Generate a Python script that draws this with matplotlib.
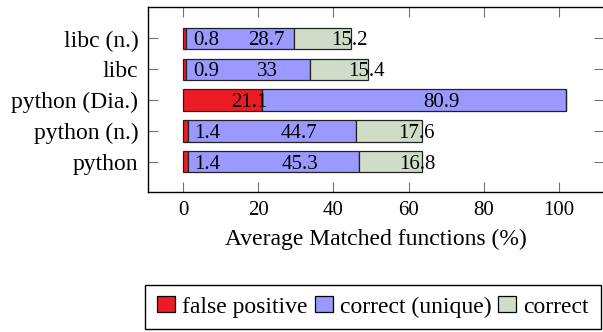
import matplotlib.pyplot as plt
from matplotlib.patches import Patch

plt.rcParams['font.family'] = ['Liberation Serif', 'DejaVu Serif']
plt.rcParams['font.size'] = 15
word_size = 17

# bottom to top
categories = ['python', 'python (n.)', 'python (Dia.)', 'libc', 'libc (n.)']
false_positive = [1.4, 1.4, 21.1, 0.9, 0.8]
correct_unique = [45.3, 44.7, 80.9, 33, 28.7]
correct = [16.8, 17.6, 0, 15.4, 15.2]

series = [('false positive', false_positive, '#ED1C24'),
          ('correct (unique)', correct_unique, '#9999FF'),
          ('correct', correct, '#CFDDC8')]

fig = plt.figure(figsize=(6.03, 3.32), dpi=100)
ax = fig.add_axes([148/603, 1-191.7/332, (604-148)/603, (191.7-6.7)/332])

y = list(range(len(categories)))
left = [0.0] * len(categories)
handles = []
for name, vals, col in series:
    ax.barh(y, vals, left=left, height=0.69, color=col, edgecolor='#222222', linewidth=0.9)
    for yi, l, v in zip(y, left, vals):
        if v > 0:
            ax.annotate(f'{v:g}', (l + v / 2, yi), xytext=(6.2, 0), textcoords='offset points',
                        ha='left', va='center_baseline')
    left = [l + v for l, v in zip(left, vals)]
    handles.append(Patch(facecolor=col, edgecolor='black', linewidth=0.9, label=name))

ax.set_xlim(-9.3, 112)
ax.set_ylim(-0.97, 5.03)
ax.set_yticks(y)
ax.set_yticklabels(categories, fontsize=word_size)
ax.set_xticks([0, 20, 40, 60, 80, 100])
ax.tick_params(direction='in', length=7.5, width=0.8, color='0.45',
               top=True, right=True, pad=7)
for s in ax.spines.values():
    s.set_linewidth(1.0)
ax.set_xlabel('Average Matched functions (%)', fontsize=word_size, labelpad=6)

fig.legend(handles=handles, ncol=3, loc='center', bbox_to_anchor=(373/603, 1-307/332),
           frameon=True, fancybox=False, edgecolor='black', framealpha=1, fontsize=word_size,
           handlelength=0.76, handleheight=0.64, handletextpad=0.3, columnspacing=0.3,
           borderpad=0.5, borderaxespad=0)

fig.savefig('out.png', dpi=100)
